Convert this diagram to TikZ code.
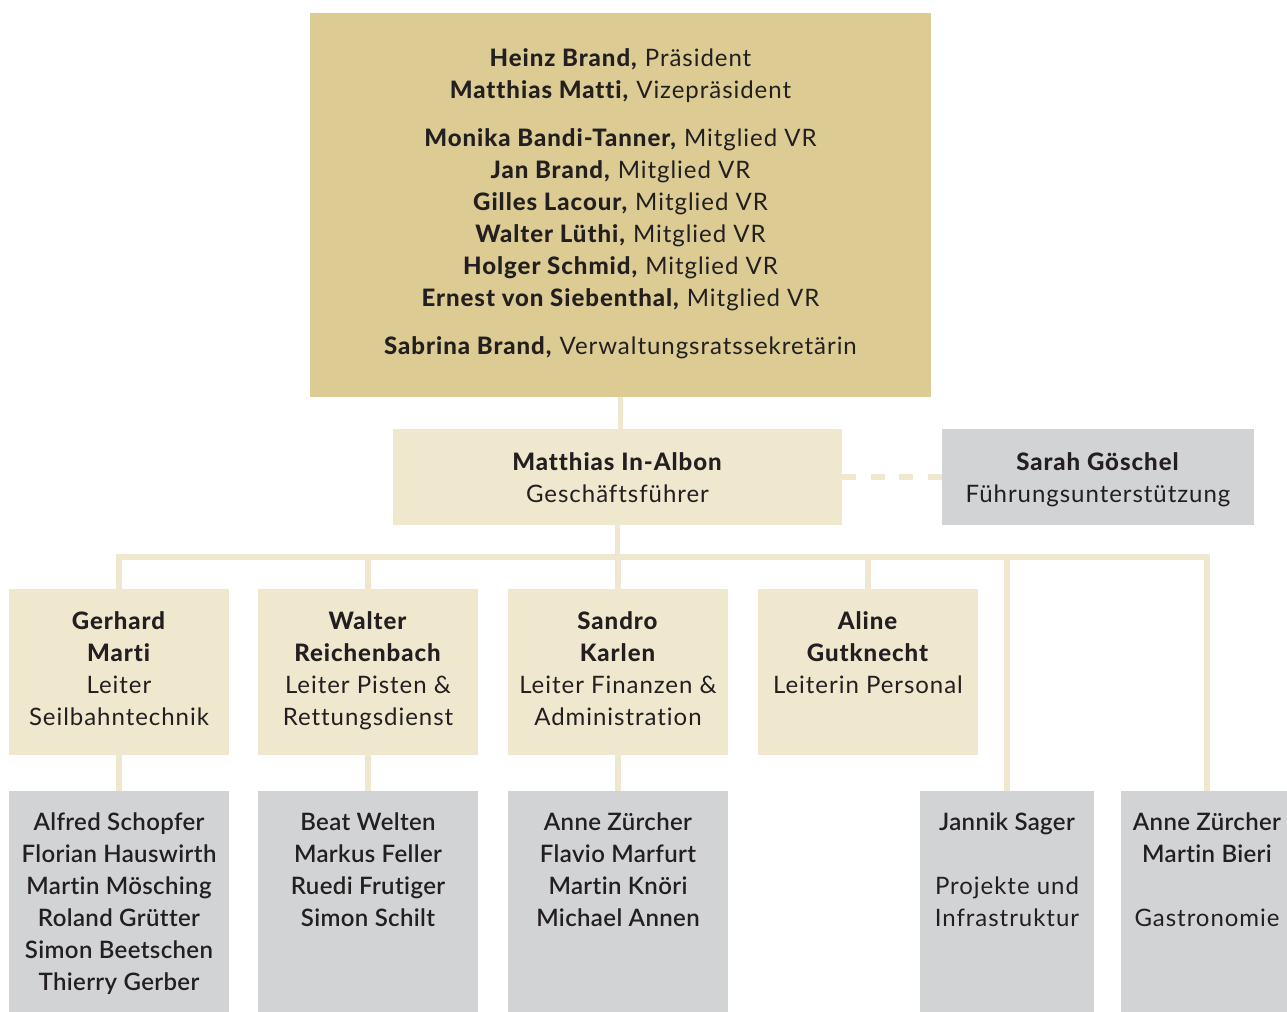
\documentclass[tikz,border=0pt]{standalone}
\usepackage{fontspec}
\IfFontExistsTF{Lato Heavy}{\setmainfont{Lato}[LetterSpace=4,Ligatures=NoCommon,BoldFont={Lato Heavy}]}{\setmainfont{Lato}[LetterSpace=4,Ligatures=NoCommon]}
\IfFontExistsTF{Lato Semibold}{\newfontfamily\medfont{Lato Semibold}[LetterSpace=1.5,Ligatures=NoCommon]}{\IfFontExistsTF{Lato Medium}{\newfontfamily\medfont{Lato Medium}[LetterSpace=2,Ligatures=NoCommon]}{\newcommand\medfont{\bfseries}}}
\usetikzlibrary{positioning}
\definecolor{vrcol}{HTML}{DCCB93}
\definecolor{lightcol}{HTML}{F0E7CF}
\definecolor{greycol}{HTML}{D1D3D4}
\definecolor{ink}{HTML}{231F20}
\begin{document}
\begin{tikzpicture}[x=0.5pt,y=-0.5pt,
  box/.style={rectangle, inner sep=0pt, outer sep=0pt, anchor=north west, draw=none},
  vrbox/.style={box, fill=vrcol},
  lbox/.style={box, fill=lightcol},
  gbox/.style={box, fill=greycol},
  txt/.style={inner sep=0pt, outer sep=0pt, anchor=north, align=center, text=ink, font=\fontsize{12}{16}\selectfont},
  mtxt/.style={txt, font=\fontsize{12}{16}\selectfont\medfont},
  conn/.style={draw=lightcol, line width=2.75pt},
  dconn/.style={conn, dash pattern=on 7.14pt off 7.14pt},
]
\useasboundingbox (0,0) rectangle (1287,1012);

% boxes
\node[vrbox, minimum width=310.5pt, minimum height=192pt] (vr) at (310,13) {};
\node[lbox, minimum width=224.5pt, minimum height=48pt] (gf) at (393,429) {};
\node[gbox, minimum width=156pt, minimum height=48pt] (sg) at (942,429) {};
\node[lbox, minimum width=110pt, minimum height=83pt] (l2a) at (9,589) {};
\node[lbox, minimum width=110pt, minimum height=83pt] (l2b) at (258,589) {};
\node[lbox, minimum width=110pt, minimum height=83pt] (l2c) at (508,589) {};
\node[lbox, minimum width=110pt, minimum height=83pt] (l2d) at (758,589) {};
\node[gbox, minimum width=110pt, minimum height=110.5pt] (l3a) at (9,791) {};
\node[gbox, minimum width=110pt, minimum height=110.5pt] (l3b) at (258,791) {};
\node[gbox, minimum width=110pt, minimum height=110.5pt] (l3c) at (508,791) {};
\node[gbox, minimum width=87pt, minimum height=110.5pt] (jan) at (920,791) {};
\node[gbox, minimum width=86pt, minimum height=110.5pt] (gas) at (1121,791) {};

% connectors
\coordinate (bus) at (0,557);
\draw[conn] (vr.south) -- (vr.south |- gf.north);
\draw[conn] (gf.south) -- (gf.south |- bus);
\draw[conn] (l2a.north) |- (bus -| gas.north) -- (gas.north);
\draw[conn] (l2b.north) -- (l2b.north |- bus);
\draw[conn] (l2c.north) -- (l2c.north |- bus);
\draw[conn] (l2d.north) -- (l2d.north |- bus);
\draw[conn] (jan.north) -- (jan.north |- bus);
\draw[conn] (l2a.south) -- (l3a.north);
\draw[conn] (l2b.south) -- (l3b.north);
\draw[conn] (l2c.south) -- (l3c.north);
\draw[dconn] (gf.east) -- (sg.west);

% texts
\node[txt] (vrt) at ([yshift=-15.3pt]vr.north) {\strut\textbf{Heinz Brand,} Präsident\\
\textbf{Matthias Matti,} Vizepräsident\\[8pt]
\textbf{Monika Bandi-Tanner,} Mitglied VR\\
\textbf{Jan Brand,} Mitglied VR\\
\textbf{Gilles Lacour,} Mitglied VR\\
\textbf{Walter Lüthi,} Mitglied VR\\
\textbf{Holger Schmid,} Mitglied VR\\
\textbf{Ernest von Siebenthal,} Mitglied VR\\[8pt]
\textbf{Sabrina Brand,} Verwaltungsratssekretärin};
\node[txt] (gft) at ([yshift=-9.3pt]gf.north) {\strut\textbf{Matthias In-Albon}\\Geschäftsführer};
\node[txt] (sgt) at ([yshift=-9.3pt]sg.north) {\strut\textbf{Sarah Göschel}\\Führungsunterstützung};
\node[txt] (l2at) at ([yshift=-8.8pt]l2a.north) {\strut\textbf{Gerhard}\\\textbf{Marti}\\Leiter\\Seilbahntechnik};
\node[txt] (l2bt) at ([yshift=-8.8pt]l2b.north) {\strut\textbf{Walter}\\\textbf{Reichenbach}\\Leiter Pisten \&\\Rettungsdienst};
\node[txt] (l2ct) at ([yshift=-8.8pt]l2c.north) {\strut\textbf{Sandro}\\\textbf{Karlen}\\Leiter Finanzen \&\\Administration};
\node[txt] (l2dt) at ([yshift=-8.8pt]l2d.north) {\strut\textbf{Aline}\\\textbf{Gutknecht}\\Leiterin Personal};
\node[mtxt] (l3at) at ([yshift=-8.3pt]l3a.north) {\strut Alfred Schopfer\\Florian Hauswirth\\Martin Mösching\\Roland Grütter\\Simon Beetschen\\Thierry Gerber};
\node[mtxt] (l3bt) at ([yshift=-8.3pt]l3b.north) {\strut Beat Welten\\Markus Feller\\Ruedi Frutiger\\Simon Schilt};
\node[mtxt] (l3ct) at ([yshift=-8.3pt]l3c.north) {\strut Anne Zürcher\\Flavio Marfurt\\Martin Knöri\\Michael Annen};
\node[txt] (jant) at ([yshift=-8.3pt]jan.north) {\strut{\medfont Jannik Sager}\\[16pt]Projekte und\\Infrastruktur};
\node[txt] (gast) at ([yshift=-8.3pt]gas.north) {\strut{\medfont Anne Zürcher}\\{\medfont Martin Bieri}\\[16pt]Gastronomie};
\end{tikzpicture}
\end{document}
